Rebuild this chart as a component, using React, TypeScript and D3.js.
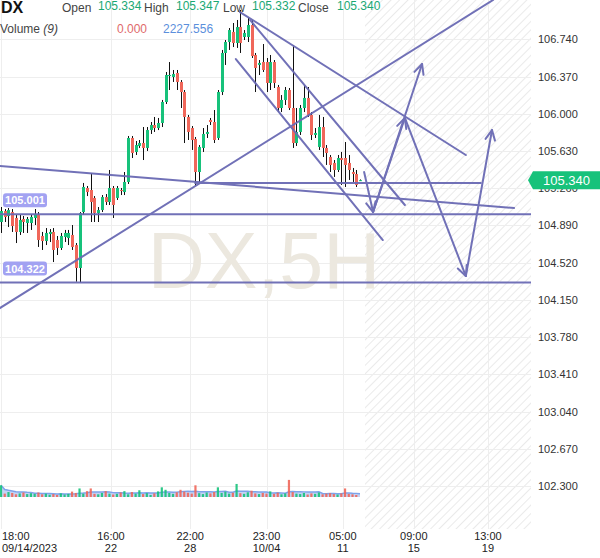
import React from 'react';
import * as d3 from 'd3';

const opens = [104.924,105.033,104.984,105.023,104.964,104.825,104.954,104.914,104.914,104.964,
104.994,104.785,104.735,104.805,104.825,104.745,104.666,104.775,104.765,104.795,
104.695,104.467,105.023,105.262,105.242,105.163,105.013,105.043,105.172,105.123,
105.262,105.163,105.242,105.222,105.322,105.759,105.620,105.680,105.709,105.660,
105.838,105.888,105.858,105.908,106.117,106.375,106.365,106.405,106.316,106.216,
105.968,105.858,105.749,105.421,105.660,105.799,105.938,105.918,105.759,106.216,
106.604,106.713,106.813,106.703,106.862,106.763,106.763,106.882,106.584,106.485,
106.514,106.514,106.306,106.514,106.266,106.057,106.137,106.236,106.057,105.709,
105.819,106.057,106.157,105.988,105.789,105.670,105.868,105.660,105.570,105.511,
105.441,105.560,105.560,105.511,105.421,105.401,105.334];

const closes = [105.033,104.974,105.043,104.884,104.825,104.944,104.924,104.954,104.974,105.003,
104.745,104.735,104.815,104.825,104.646,104.666,104.785,104.815,104.815,104.676,
104.467,105.013,105.272,105.222,105.123,105.013,105.043,105.172,105.123,105.262,
105.093,105.262,105.232,105.322,105.759,105.610,105.689,105.709,105.660,105.838,
105.888,105.858,105.908,106.117,106.385,106.385,106.395,106.316,106.216,105.968,
105.819,105.739,105.421,105.670,105.799,105.819,105.918,105.739,106.216,106.604,
106.713,106.832,106.703,106.862,106.703,106.803,106.882,106.574,106.455,106.505,
106.435,106.306,106.514,106.306,106.057,106.137,106.236,106.057,105.709,105.819,
106.057,106.157,105.988,105.789,105.809,105.868,105.660,105.610,105.491,105.441,
105.560,105.540,105.491,105.441,105.401,105.292,105.340];

const highs = [105.073,105.053,105.063,105.053,104.994,104.994,104.984,104.974,105.003,105.053,
105.023,104.825,104.864,104.854,104.864,104.785,104.815,104.845,104.845,104.894,
104.715,105.023,105.312,105.282,105.411,105.182,105.073,105.192,105.202,105.441,
105.282,105.282,105.262,105.421,105.779,105.779,105.729,105.739,105.868,105.868,
105.918,105.968,105.958,106.137,106.415,106.514,106.435,106.435,106.335,106.236,
105.988,105.878,105.769,105.689,105.858,105.888,105.958,106.037,106.236,106.634,
106.733,106.852,106.902,106.932,107.031,106.832,106.952,106.932,106.604,106.534,
106.693,106.554,106.584,106.534,106.286,106.186,106.266,106.256,106.683,106.057,
106.087,106.286,106.266,106.017,105.858,105.988,105.968,105.689,105.590,105.540,
105.590,105.620,105.719,105.590,105.461,105.441,105.347];

const lows = [104.815,104.924,104.874,104.825,104.715,104.795,104.815,104.815,104.845,104.894,
104.676,104.646,104.695,104.725,104.526,104.596,104.646,104.725,104.695,104.646,
104.330,104.322,104.994,105.182,104.924,104.924,104.924,105.023,105.093,105.093,
104.964,105.143,105.192,105.192,105.302,105.560,105.590,105.660,105.540,105.630,
105.799,105.819,105.838,105.868,106.097,106.236,106.316,106.236,106.057,105.709,
105.739,105.640,105.282,105.322,105.620,105.759,105.888,105.709,105.739,106.186,
106.485,106.634,106.663,106.654,106.604,106.733,106.713,106.554,106.216,106.385,
106.415,106.216,106.236,106.256,106.017,106.017,106.087,106.037,105.660,105.680,
105.789,106.017,105.968,105.739,105.759,105.640,105.570,105.491,105.421,105.372,
105.421,105.292,105.272,105.342,105.322,105.272,105.332];

const volumes = [5200,1500,2200,1800,1200,1600,2000,1300,1700,1400,
2000,1200,1500,1000,1300,900,1600,1100,1400,2400,
1800,3800,1500,2600,3800,1400,1200,1800,2600,1500,
1100,1400,2000,2600,1200,2200,1500,3000,1300,1700,
900,1600,2500,4300,3200,1800,1400,2100,3200,2400,
1900,1500,5200,1700,1300,2000,1600,2200,4300,1800,
2400,1500,1900,5800,1700,1400,2100,2800,1600,1300,
1800,1500,2500,1400,1900,1200,1600,7600,2200,1500,
1300,1800,1100,1600,1400,2000,1200,1500,1700,1300,
1100,1600,3800,1400,1200,900,0];

const priceTicks = [106.74, 106.37, 106.0, 105.63, 105.26, 104.89, 104.52, 104.15, 103.78, 103.41, 103.04, 102.67, 102.3];
const timeTickIdx = [0, 29.4, 50.6, 71, 91.4, 110.4, 130.2];
const timeTickTop = ['18:00', '16:00', '22:00', '23:00', '05:00', '09:00', '13:00'];
const timeTickBottom = ['09/14/2023', '22', '28', '10/04', '11', '15', '19'];

const labeledLevels = [105.001, 104.322];

// trend lines as [index, price] pairs
const trendLines: [number, number][][] = [
  [[-1, 105.484], [137.2, 105.063]],
  [[-1, 104.052], [131.6, 107.131]],
  [[51.9, 105.312], [128.3, 105.312]],
  [[63.9, 107.011], [124.3, 105.59]],
  [[66.6, 106.932], [108.0, 105.093]],
  [[62.8, 106.544], [102.1, 104.745]],
];

const arrowLines: [number, number][][] = [
  [[97.1, 105.421], [99.5, 105.023]],
  [[99.5, 105.023], [108.0, 105.958]],
  [[99.5, 105.023], [112.6, 106.495]],
  [[108.0, 105.958], [124.3, 104.387]],
  [[124.3, 104.387], [131.3, 105.838]],
];

const FONT = '"Liberation Sans", Arial, Helvetica, sans-serif';
const GREEN = '#17c27b';
const RED = '#f0675a';
const LINE = '#6a6ab4';

export default function App() {
  const N = opens.length;
  const PR = 531;
  const PB = 529;
  const x = d3.scaleLinear().domain([0, N - 1]).range([1, 360]);
  const y = d3.scaleLinear().domain([102.3, 106.74]).range([486, 39.3]);
  const vy = d3.scaleLinear().domain([0, 8000]).range([497, 479]);
  const fmt = d3.format('.3f');

  const ma = volumes.map((_, i) => d3.mean(volumes.slice(Math.max(0, i - 8), i + 1)) as number);
  const area = d3.area<number>().x((_, i) => x(i)).y0(vy(0)).y1((d) => vy(d));
  const maLine = d3.line<number>().x((_, i) => x(i)).y((d) => vy(d));

  const futureX = x(N - 1) + 5;

  const arrowHead = (pts: [number, number][]) => {
    const [x1, y1] = [x(pts[0][0]), y(pts[0][1])];
    const [x2, y2] = [x(pts[1][0]), y(pts[1][1])];
    const a = Math.atan2(y2 - y1, x2 - x1);
    const L = 11, t = 0.45;
    const p1 = [x2 + L * Math.cos(a + Math.PI - t), y2 + L * Math.sin(a + Math.PI - t)];
    const p2 = [x2 + L * Math.cos(a + Math.PI + t), y2 + L * Math.sin(a + Math.PI + t)];
    return `M${p1[0]},${p1[1]}L${x2},${y2}L${p2[0]},${p2[1]}`;
  };
  const seg = (pts: [number, number][]) => d3.line<[number, number]>().x((d) => x(d[0])).y((d) => y(d[1]))(pts) as string;

  const last = N - 1;
  const lastUp = closes[last] >= opens[last];
  const lastY = y(closes[last]);

  return (
    <div>
      <style>{`body{margin:0;background:#fff}`}</style>
      <svg width={600} height={558} style={{ display: 'block', fontFamily: FONT }}>
        <defs>
          <pattern id="hatch" patternUnits="userSpaceOnUse" width="6" height="6" patternTransform="rotate(45)">
            <line x1="0.5" y1="0" x2="0.5" y2="6" stroke="#eaeaea" strokeWidth="1" />
          </pattern>
          <clipPath id="plot">
            <rect x={0} y={0} width={PR} height={PB} />
          </clipPath>
        </defs>
        <rect x={0} y={0} width={600} height={558} fill="#fff" />
        <rect x={futureX} y={0} width={PR - futureX} height={PB} fill="url(#hatch)" />
        {/* grid */}
        {priceTicks.map((p) => (
          <line key={'g' + p} x1={0} x2={PR} y1={Math.round(y(p)) + 0.5} y2={Math.round(y(p)) + 0.5} stroke="#eeeeee" />
        ))}
        {timeTickIdx.map((i) => (
          <line key={'v' + i} x1={Math.round(x(i)) + 0.5} x2={Math.round(x(i)) + 0.5} y1={0} y2={PB} stroke="#eeeeee" />
        ))}
        {/* watermark */}
        <text x={264} y={288} textAnchor="middle" fontSize={79} fill="#ece8df">DX,5H</text>
        {/* volume */}
        <path d={area(ma) as string} fill="#b9cbf3" opacity={0.85} />
        <path d={maLine(ma) as string} fill="none" stroke="#7ea3ea" strokeWidth={1.5} />
        {volumes.map((v, i) => (
          <rect key={'vb' + i} x={x(i) - 1.1} width={2.2} y={vy(v)} height={vy(0) - vy(v)}
            fill={closes[i] >= opens[i] ? GREEN : RED} opacity={0.9} />
        ))}
        {/* candles */}
        {opens.map((o, i) => {
          const c = closes[i];
          const up = c >= o;
          const cx = Math.round(x(i)) + 0.5;
          const top = y(Math.max(o, c));
          const h = Math.max(1, y(Math.min(o, c)) - top);
          return (
            <g key={'c' + i}>
              <line x1={cx} x2={cx} y1={y(highs[i])} y2={y(lows[i])} stroke="#111" strokeWidth={1} />
              <rect x={cx - 1.5} width={3} y={top} height={h} fill={up ? GREEN : RED} />
            </g>
          );
        })}
        {/* drawings */}
        <g clipPath="url(#plot)" stroke={LINE} strokeWidth={2} fill="none" strokeLinecap="round" opacity={0.95}>
          {labeledLevels.map((p) => (
            <line key={'lv' + p} x1={0} x2={PR} y1={y(p)} y2={y(p)} />
          ))}
          {trendLines.map((t, k) => (
            <path key={'t' + k} d={seg(t)} />
          ))}
          {arrowLines.map((t, k) => (
            <g key={'a' + k}>
              <path d={seg(t)} />
              <path d={arrowHead(t)} strokeLinejoin="round" />
            </g>
          ))}
        </g>
        {labeledLevels.map((p) => (
          <g key={'lb' + p}>
            <rect x={3} y={y(p) - 21} width={44} height={14} rx={3} fill="#a2a2f2" />
            <text x={25} y={y(p) - 10} textAnchor="middle" fontSize={11} fontWeight="bold" fill="#fff">{fmt(p)}</text>
          </g>
        ))}
        {/* right axis */}
        {priceTicks.map((p) => (
          <text key={'t' + p} x={538} y={y(p) + 4} fontSize={11} fill="#333">{fmt(p)}</text>
        ))}
        <path d={`M528,${lastY}L533,${lastY - 9}H600V${lastY + 9}H533Z`} fill={lastUp ? GREEN : RED} />
        <text x={543} y={lastY + 4.5} fontSize={13} fill="#fff">{fmt(closes[last])}</text>
        {/* bottom axis */}
        {timeTickIdx.map((i, k) => (
          <g key={'tl' + i} fontSize={11} fill="#222">
            <text x={k === 0 ? 2 : x(i)} y={540} textAnchor={k === 0 ? 'start' : 'middle'}>{timeTickTop[k]}</text>
            <text x={k === 0 ? 2 : x(i)} y={552} textAnchor={k === 0 ? 'start' : 'middle'}>{timeTickBottom[k]}</text>
          </g>
        ))}
        {/* header */}
        <text x={1} y={13} fontSize={16} fontWeight="bold" fill="#111">DX</text>
        <g fontSize={12}>
          <text x={62} y={12} fill="#444">Open</text>
          <text x={98} y={9.5} fill="#1aa874">{fmt(opens[last])}</text>
          <text x={144} y={12} fill="#444">High</text>
          <text x={176} y={9.5} fill="#1aa874">{fmt(highs[last])}</text>
          <text x={223} y={12} fill="#444">Low</text>
          <text x={252} y={9.5} fill="#1aa874">{fmt(lows[last])}</text>
          <text x={298} y={12} fill="#444">Close</text>
          <text x={337} y={9.5} fill="#1aa874">{fmt(closes[last])}</text>
          <text x={0} y={32.5} fill="#444">Volume <tspan fontStyle="italic">(9)</tspan></text>
          <text x={117} y={32.5} fill="#e06a6a">{fmt(volumes[last])}</text>
          <text x={163} y={32.5} fill="#5b8fdc">2227.556</text>
        </g>
      </svg>
    </div>
  );
}
